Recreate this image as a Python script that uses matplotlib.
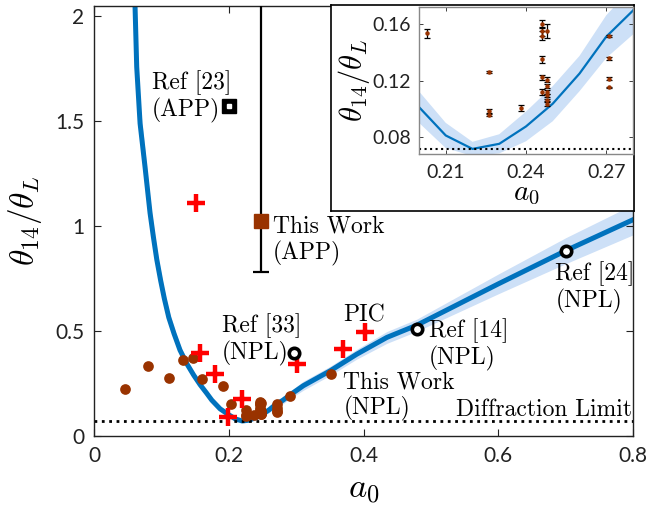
import matplotlib
matplotlib.use("Agg")
import matplotlib.pyplot as plt
import numpy as np

plt.rcParams['mathtext.fontset'] = 'cm'
plt.rcParams['font.family'] = ['Lato', 'DejaVu Sans']

# ---------------- data ----------------
# theory curve (a0, theta14/thetaL)
curve_a = [0.0609, 0.0634, 0.0684, 0.0757, 0.0832, 0.0881, 0.0932, 0.0990, 0.1044, 0.1110,
           0.1188, 0.1277, 0.1377, 0.1480, 0.1574, 0.1670, 0.1748, 0.1871,
           0.20, 0.21, 0.22, 0.23, 0.24, 0.25, 0.26, 0.27, 0.28,
           0.2911, 0.3108, 0.3507, 0.39, 0.4347, 0.479, 0.60, 0.7005, 0.80]
curve_v = [2.05, 1.759, 1.49, 1.284, 1.063, 0.95, 0.841, 0.74, 0.655, 0.565,
           0.488, 0.409, 0.345, 0.29, 0.245, 0.205, 0.171, 0.1296,
           0.1012, 0.0811, 0.0716, 0.0752, 0.0875, 0.1036, 0.1249, 0.151, 0.1695,
           0.196, 0.240, 0.311, 0.39, 0.47, 0.528, 0.725, 0.884, 1.031]
band_rel = [0.06, 0.06, 0.06, 0.06, 0.06, 0.06, 0.06, 0.06, 0.06, 0.06,
            0.06, 0.06, 0.06, 0.06, 0.07, 0.07, 0.08, 0.09,
            0.11, 0.11, 0.07, 0.09, 0.12, 0.12, 0.10, 0.10, 0.10,
            0.09, 0.09, 0.07, 0.06, 0.06, 0.055, 0.065, 0.07, 0.07]

# experimental data (this work, NPL) - brown circles
exp_a = [0.0461, 0.0807, 0.111, 0.1317, 0.1475, 0.160, 0.192, 0.291, 0.352]
exp_v = [0.224, 0.332, 0.277, 0.362, 0.370, 0.272, 0.240, 0.193, 0.296]

# inset data with error bars
ins_a = [0.2031, 0.2263, 0.2263, 0.2263, 0.2381,
         0.2461, 0.2461, 0.2461, 0.2461, 0.2461, 0.2461,
         0.2477, 0.2477, 0.2477, 0.2477, 0.2477, 0.2477, 0.2477,
         0.2711, 0.2711, 0.2711, 0.2711]
ins_v = [0.1534, 0.1257, 0.0985, 0.0958, 0.1006,
         0.1600, 0.1548, 0.1517, 0.1351, 0.1222, 0.1120,
         0.1553, 0.1207, 0.1160, 0.1120, 0.1096, 0.1060, 0.1037,
         0.1515, 0.1356, 0.1214, 0.1151]
ins_e = [0.0032, 0.0007, 0.0012, 0.0008, 0.0022,
         0.0030, 0.0030, 0.0030, 0.0025, 0.0018, 0.0020,
         0.0050, 0.0015, 0.0015, 0.0015, 0.0012, 0.0012, 0.0015,
         0.0010, 0.0008, 0.0008, 0.0006]

# PIC simulations - red crosses
pic_a = [0.151, 0.1575, 0.18, 0.1995, 0.2193, 0.301, 0.370, 0.402]
pic_v = [1.111, 0.394, 0.296, 0.090, 0.177, 0.343, 0.414, 0.494]

# other references (NPL) - open black circles
ref_npl_a = [0.297, 0.479, 0.7005]
ref_npl_v = [0.395, 0.509, 0.884]

# Ref [23] (APP)
ref_app_a = [0.20]
ref_app_v = [1.572]

# This work (APP)
tw_app_a = [0.248]
tw_app_v = [1.024]
tw_app_err_lo = [0.243]
tw_app_err_hi = [1.6]

diff_limit = 0.0715

blue = '#0072BD'
band_col = '#cde0f7'
brown = '#993300'

ca = np.array(curve_a)
cv = np.array(curve_v)
br = np.array(band_rel)
all_a = exp_a + ins_a
all_v = exp_v + ins_v

# ---------------- main axes ----------------
fig = plt.figure(figsize=(6.51, 5.24), dpi=100)
ax = fig.add_axes([94/651, 1-436/524, 539/651, 430/524])

ax.fill_between(ca, cv*(1-br), cv*(1+br), color=band_col, lw=0, zorder=1)
ax.plot(ca, cv, color=blue, lw=3.6, zorder=2, solid_joinstyle='round')
ax.axhline(diff_limit, color='k', ls=':', lw=2, zorder=2)

ax.plot(all_a, all_v, 'o', color=brown, ms=7.7, mec='none', zorder=3)
ax.plot(pic_a, pic_v, '+', color='red', ms=13, mew=3.2, zorder=4)
ax.plot(ref_npl_a, ref_npl_v, 'o', mfc='white', mec='black', ms=7.5, mew=2.6, zorder=5)
ax.plot(ref_app_a, ref_app_v, 's', color='black', ms=10, zorder=5)
ax.plot(ref_app_a, ref_app_v, 's', color='white', ms=2.5, zorder=6)
ax.errorbar(tw_app_a, tw_app_v, yerr=[tw_app_err_lo, tw_app_err_hi], fmt='s',
            color=brown, ecolor='black', ms=9.5, elinewidth=1.6, capsize=6, capthick=1.6, zorder=4)

ax.set_xlim(0, 0.8)
ax.set_ylim(0, 2.05)
ax.set_xticks([0, 0.2, 0.4, 0.6, 0.8])
ax.set_xticklabels(['0', '0.2', '0.4', '0.6', '0.8'])
ax.set_yticks([0, 0.5, 1, 1.5, 2])
ax.set_yticklabels(['0', '0.5', '1', '1.5', '2'])
ax.tick_params(direction='in', top=True, right=True, length=5, width=0.8,
               labelsize=15, pad=7, colors='#222222')
for s in ax.spines.values():
    s.set_linewidth(1.0)
    s.set_color('#222222')
ax.set_xlabel(r'$a_0$', fontsize=25, labelpad=6)
ax.set_ylabel(r'$\theta_{14}/\theta_L$', fontsize=24, labelpad=8)

tkw = dict(fontfamily='cmr10', fontsize=17, va='center', ha='left', linespacing=1.15)
ax.text(0.0861, 1.617, 'Ref [23]\n(APP)', **tkw)
ax.text(0.266, 0.932, 'This Work\n(APP)', **tkw)
ax.text(0.190, 0.461, 'Ref [33]\n(NPL)', **tkw)
ax.text(0.370, 0.575, 'PIC', **tkw)
ax.text(0.370, 0.190, 'This Work\n(NPL)', **tkw)
ax.text(0.4966, 0.437, 'Ref [14]\n(NPL)', **tkw)
ax.text(0.6847, 0.706, 'Ref [24]\n(NPL)', **tkw)
ax.text(0.798, 0.124, 'Diffraction Limit', fontfamily='cmr10', fontsize=17,
        va='center', ha='right')

# ---------------- inset ----------------
bg = fig.add_axes([331/651, 1-211/524, 303/651, 206/524])
bg.set_xticks([]); bg.set_yticks([])
bg.set_facecolor('white')
for s in bg.spines.values():
    s.set_linewidth(1.2)
    s.set_color('black')
bg.set_zorder(10)

ins = fig.add_axes([419/651, 1-154/524, 214/651, 147/524])
ins.set_zorder(11)
ins.fill_between(ca, cv*(1-br), cv*(1+br), color=band_col, lw=0, zorder=1)
ins.plot(ca, cv, color=blue, lw=1.6, zorder=2)
ins.axhline(diff_limit, color='k', ls=':', lw=1.5, zorder=2)
ins.errorbar(ins_a, ins_v, yerr=ins_e, fmt='o', color=brown, ms=2.2, ecolor='black',
             elinewidth=0.9, capsize=2.5, capthick=0.9, zorder=3)
ins.set_xlim(0.2, 0.28)
ins.set_ylim(0.068, 0.172)
ins.set_xticks([0.21, 0.24, 0.27])
ins.set_xticklabels(['0.21', '0.24', '0.27'])
ins.set_yticks([0.08, 0.12, 0.16])
ins.set_yticklabels(['0.08', '0.12', '0.16'])
ins.tick_params(direction='in', top=True, right=True, length=3, width=0.6,
                labelsize=14, colors='#222222')
ins.tick_params(axis='x', pad=7)
ins.tick_params(axis='y', pad=6)
for s in ins.spines.values():
    s.set_linewidth(1.0)
    s.set_color('#888888')
ins.set_xlabel(r'$a_0$', fontsize=21, labelpad=0)
ins.set_ylabel(r'$\theta_{14}/\theta_L$', fontsize=22, labelpad=0)

fig.savefig('out.png', dpi=100)
